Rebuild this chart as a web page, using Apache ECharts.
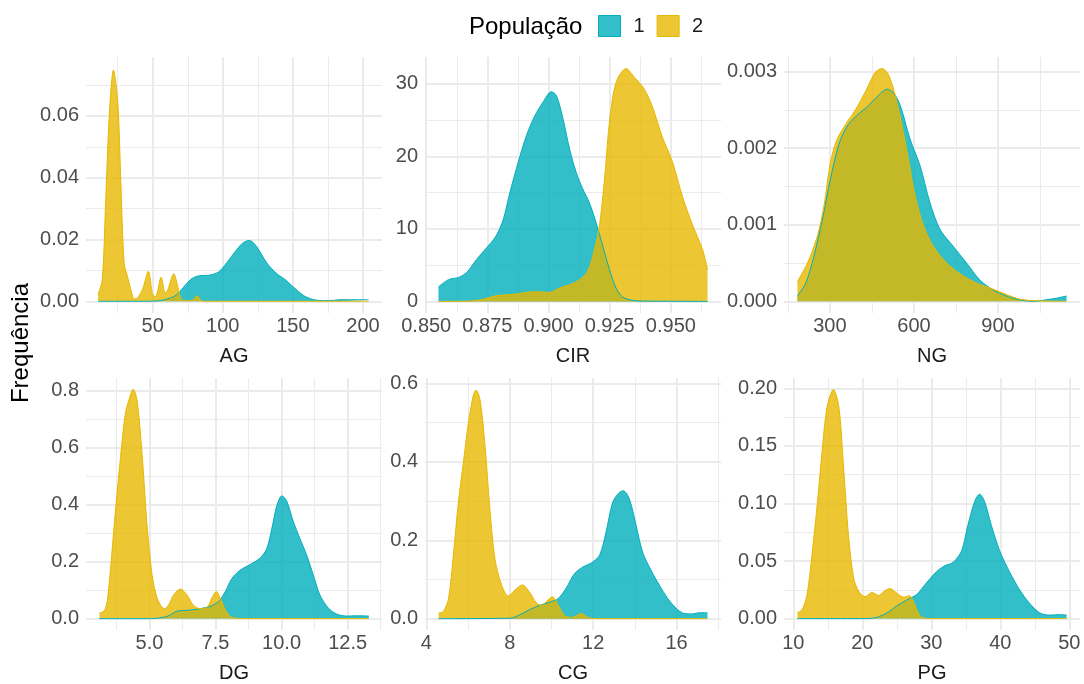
<!DOCTYPE html>
<html>
<head>
<meta charset="utf-8">
<script src="https://cdn.jsdelivr.net/npm/echarts@6/dist/echarts.min.js"></script>
<style>
  html, body { margin: 0; padding: 0; background: #fff; }
  #chart { width: 1084px; height: 684px; }
</style>
</head>
<body>
<div id="chart"></div>
<script>
// AG
const agX1 = [11, 40, 55, 62, 66.8, 71.5, 77.5, 83.5, 89.5, 96.7, 102.7, 109.9, 114.7, 119, 124, 131.4, 138.6, 144.6, 150.6, 157.8, 165, 172, 179, 184, 204];
const agY1 = [0, 0, 0.0002, 0.001, 0.002, 0.0043, 0.0072, 0.0083, 0.0084, 0.0094, 0.0124, 0.0167, 0.019, 0.0197, 0.0178, 0.0124, 0.0089, 0.007, 0.0045, 0.0018, 0.0005, 0.0002, 0.0003, 0.0005, 0.0005];
const agX2 = [11, 14, 16.5, 19, 22, 25, 27.3, 29.6, 32, 34.4, 36.8, 39, 42.8, 46.9, 50, 52, 56, 58.9, 60.8, 65, 68.4, 71, 75, 79, 81.6, 84.7, 90, 120, 160, 204];
const agY2 = [0.0022, 0.007, 0.033, 0.06, 0.0749, 0.065, 0.038, 0.0124, 0.008, 0.0038, 0.0008, 0.001, 0.004, 0.0097, 0.002, 0.0016, 0.0078, 0.0027, 0.0038, 0.0089, 0.0038, 0.0003, 0.0002, 0.0005, 0.0018, 0.0002, 0, 0, 0, 0];
const agXTicks = [50, 100, 150, 200];
const agYTicks = [0, 0.02, 0.04, 0.06];

// CIR
const cirX1 = [0.855, 0.8591, 0.8632, 0.8666, 0.8706, 0.8747, 0.8785, 0.8815, 0.8842, 0.8876, 0.891, 0.8944, 0.8978, 0.9011, 0.9032, 0.9059, 0.9086, 0.9113, 0.914, 0.9167, 0.9195, 0.9222, 0.9249, 0.9276, 0.9303, 0.9344, 0.9398, 0.965];
const cirY1 = [2.0, 3.0, 3.3, 4.0, 5.8, 7.4, 9.0, 11.3, 15.0, 19.2, 22.9, 25.6, 27.5, 28.9, 28.4, 25.2, 21.0, 17.8, 15.5, 13.6, 10.8, 7.6, 4.4, 1.85, 0.6, 0.14, 0.05, 0];
const cirX2 = [0.855, 0.8679, 0.8733, 0.8788, 0.8828, 0.8876, 0.8937, 0.9005, 0.9045, 0.9086, 0.9127, 0.9161, 0.9188, 0.9208, 0.9229, 0.9249, 0.9276, 0.9317, 0.9351, 0.9391, 0.9425, 0.9466, 0.9507, 0.9547, 0.9588, 0.9629, 0.965];
const cirY2 = [0, 0.05, 0.3, 0.8, 0.9, 1.06, 1.34, 1.25, 1.85, 2.3, 3.0, 4.2, 7.2, 10.4, 16.9, 24.7, 30.2, 32.1, 30.9, 29.3, 26.8, 22.6, 19.2, 14.5, 10.6, 7.2, 4.4];
const cirXTicks = [0.85, 0.875, 0.9, 0.925, 0.95];
const cirYTicks = [0, 10, 20, 30];

// NG
const ngX1 = [184, 214, 243, 273, 302, 332, 362, 397, 433, 468, 504, 527, 551, 586, 622, 657, 693, 740, 788, 835, 882, 930, 977, 1024, 1072, 1107, 1145];
const ngY1 = [0.00007, 0.00024, 0.00059, 0.00107, 0.0016, 0.00205, 0.00229, 0.00243, 0.00254, 0.00267, 0.00277, 0.00272, 0.00256, 0.00212, 0.00177, 0.00129, 0.00094, 0.00072, 0.0005, 0.00028, 0.00015, 0.00007, 0.00002, 0, 0.00002, 0.00004, 0.00007];
const ngX2 = [184, 220, 255, 279, 302, 326, 356, 391, 427, 462, 486, 509, 533, 557, 580, 604, 634, 669, 717, 764, 823, 882, 930, 977, 1024, 1145];
const ngY2 = [0.00026, 0.0005, 0.00085, 0.00125, 0.00182, 0.00212, 0.00231, 0.0025, 0.00274, 0.00299, 0.00304, 0.00296, 0.00269, 0.0023, 0.00186, 0.00138, 0.00099, 0.00072, 0.0005, 0.00036, 0.00024, 0.00016, 0.00009, 0.00003, 0.00001, 0];
const ngXTicks = [300, 600, 900];
const ngYTicks = [0, 0.001, 0.002, 0.003];

// DG
const dgX1 = [3.11, 5.04, 5.67, 6.04, 6.55, 6.92, 7.30, 7.62, 7.87, 8.12, 8.43, 8.81, 9.19, 9.44, 9.63, 9.82, 10.01, 10.19, 10.45, 10.70, 10.95, 11.20, 11.45, 11.77, 12.08, 12.46, 12.84, 13.3];
const dgY1 = [0, 0, 0.008, 0.026, 0.03, 0.035, 0.043, 0.06, 0.095, 0.141, 0.17, 0.19, 0.213, 0.246, 0.315, 0.397, 0.431, 0.414, 0.339, 0.28, 0.223, 0.153, 0.083, 0.037, 0.016, 0.009, 0.01, 0.009];
const dgX2 = [3.11, 3.28, 3.40, 3.53, 3.72, 3.91, 4.09, 4.28, 4.38, 4.53, 4.72, 4.91, 5.10, 5.29, 5.48, 5.58, 5.73, 5.92, 6.17, 6.42, 6.67, 6.92, 7.18, 7.36, 7.53, 7.68, 7.87, 8.06, 8.31, 9, 11, 13.3];
const dgY2 = [0.02, 0.026, 0.06, 0.176, 0.385, 0.57, 0.72, 0.785, 0.806, 0.768, 0.58, 0.327, 0.153, 0.072, 0.039, 0.035, 0.049, 0.083, 0.104, 0.083, 0.046, 0.035, 0.039, 0.072, 0.095, 0.072, 0.031, 0.008, 0.001, 0, 0, 0];
const dgXTicks = [5, 7.5, 10, 12.5];
const dgYTicks = [0, 0.2, 0.4, 0.6, 0.8];

// CG
const cgX1 = [4.59, 8.01, 8.49, 8.96, 9.44, 9.92, 10.32, 10.71, 11.11, 11.51, 11.91, 12.31, 12.62, 12.94, 13.26, 13.45, 13.74, 14.06, 14.37, 14.77, 15.17, 15.57, 15.97, 16.36, 16.76, 17.08, 17.48];
const cgY1 = [0, 0.001, 0.01, 0.023, 0.034, 0.042, 0.051, 0.078, 0.115, 0.132, 0.142, 0.162, 0.221, 0.297, 0.322, 0.326, 0.305, 0.238, 0.17, 0.124, 0.086, 0.052, 0.027, 0.013, 0.012, 0.015, 0.015];
const cgX2 = [4.59, 4.83, 5.07, 5.30, 5.54, 5.78, 6.02, 6.26, 6.39, 6.58, 6.82, 7.05, 7.29, 7.61, 7.93, 8.25, 8.61, 8.96, 9.28, 9.52, 9.76, 10.05, 10.32, 10.63, 10.95, 11.19, 11.43, 11.75, 12.15, 17.48];
const cgY2 = [0.014, 0.019, 0.052, 0.162, 0.297, 0.398, 0.499, 0.571, 0.583, 0.558, 0.44, 0.28, 0.153, 0.086, 0.058, 0.073, 0.086, 0.067, 0.04, 0.034, 0.044, 0.056, 0.035, 0.008, 0.003, 0.007, 0.013, 0.003, 0, 0];
const cgXTicks = [4, 8, 12, 16];
const cgYTicks = [0, 0.2, 0.4, 0.6];

// PG
const pgX1 = [10.6, 20.7, 22.1, 23.6, 25.0, 26.4, 27.9, 29.3, 30.8, 32.0, 33.2, 34.4, 35.3, 36.3, 37.0, 37.7, 38.7, 39.9, 41.3, 42.8, 44.2, 45.7, 47.1, 48.6, 49.6];
const pgY1 = [0, 0, 0.001, 0.005, 0.011, 0.016, 0.021, 0.031, 0.041, 0.046, 0.049, 0.059, 0.081, 0.102, 0.108, 0.102, 0.081, 0.059, 0.041, 0.025, 0.0135, 0.005, 0.003, 0.0034, 0.003];
const pgX2 = [10.6, 11.3, 12.0, 12.7, 13.5, 14.2, 14.9, 15.8, 16.6, 17.3, 18.0, 18.75, 19.5, 20.4, 21.4, 22.4, 23.1, 24.0, 25.0, 26.0, 26.8, 27.4, 28.1, 28.8, 30.3, 49.6];
const pgY2 = [0.005, 0.008, 0.021, 0.055, 0.101, 0.147, 0.184, 0.199, 0.184, 0.13, 0.072, 0.035, 0.0235, 0.019, 0.0227, 0.02, 0.0235, 0.026, 0.022, 0.0186, 0.0198, 0.015, 0.005, 0.0006, 0, 0];
const pgXTicks = [10, 20, 30, 40, 50];
const pgYTicks = [0, 0.05, 0.1, 0.15, 0.2];

const FONT = "'Liberation Sans', Arial, sans-serif";
const C1 = '#00AFBB', C2 = '#E7B800';
const GRID_COL = '#EBEBEB';

const panels = [
  {name: 'AG', x1: agX1, y1: agY1, x2: agX2, y2: agY2, xt: agXTicks, yt: agYTicks, xr: [2.4, 213.6], yr: [-0.0038, 0.0791], xd: 0, yd: 2, left: 86, top: 57, h: 256},
  {name: 'CIR', x1: cirX1, y1: cirY1, x2: cirX2, y2: cirY2, xt: cirXTicks, yt: cirYTicks, xr: [0.8495, 0.9705], yr: [-1.6, 33.7], xd: 3, yd: 0, left: 425, top: 57, h: 256},
  {name: 'NG', x1: ngX1, y1: ngY1, x2: ngX2, y2: ngY2, xt: ngXTicks, yt: ngYTicks, xr: [136, 1193], yr: [-0.000152, 0.00319], xd: 0, yd: 3, left: 784, top: 57, h: 256},
  {name: 'DG', x1: dgX1, y1: dgY1, x2: dgX2, y2: dgY2, xt: dgXTicks, yt: dgYTicks, xr: [2.6, 13.8], yr: [-0.04, 0.845], xd: 1, yd: 1, left: 86, top: 378, h: 254},
  {name: 'CG', x1: cgX1, y1: cgY1, x2: cgX2, y2: cgY2, xt: cgXTicks, yt: cgYTicks, xr: [3.94, 18.13], yr: [-0.029, 0.614], xd: 0, yd: 1, left: 425, top: 378, h: 254},
  {name: 'PG', x1: pgX1, y1: pgY1, x2: pgX2, y2: pgY2, xt: pgXTicks, yt: pgYTicks, xr: [8.65, 51.55], yr: [-0.00995, 0.209], xd: 0, yd: 2, left: 784, top: 378, h: 254}
];

// minor breaks halfway between majors, extended to the panel limits
function minors(ticks, lo, hi) {
  const step = ticks[1] - ticks[0];
  const out = [];
  for (let v = ticks[0] - step / 2; v <= hi; v += step) {
    if (v >= lo) out.push(+v.toPrecision(10));
  }
  return out;
}

const zip = (xs, ys) => xs.map((x, i) => [x, ys[i]]);

const grid = [], xAxis = [], yAxis = [], series = [];
const tickText = {color: '#4D4D4D', fontSize: 20, fontFamily: FONT};

panels.forEach((p, i) => {
  grid.push({left: p.left, top: p.top, width: 296, height: p.h});

  xAxis.push({
    type: 'value', gridIndex: i, position: 'bottom', min: p.xr[0], max: p.xr[1],
    name: p.name, nameLocation: 'middle', nameGap: 33,
    nameTextStyle: {color: '#1A1A1A', fontSize: 20, fontFamily: FONT},
    axisLine: {show: false},
    axisTick: {show: false, customValues: p.xt},
    axisLabel: Object.assign({customValues: p.xt, margin: 3, formatter: v => v.toFixed(p.xd)}, tickText),
    splitLine: {show: true, lineStyle: {color: GRID_COL, width: 2}}
  });
  xAxis.push({
    type: 'value', gridIndex: i, position: 'top', min: p.xr[0], max: p.xr[1],
    axisLine: {show: false},
    axisTick: {show: false, customValues: minors(p.xt, p.xr[0], p.xr[1])},
    axisLabel: {show: false},
    splitLine: {show: true, lineStyle: {color: GRID_COL, width: 1}}
  });
  yAxis.push({
    type: 'value', gridIndex: i, position: 'left', min: p.yr[0], max: p.yr[1],
    axisLine: {show: false},
    axisTick: {show: false, customValues: p.yt},
    axisLabel: Object.assign({customValues: p.yt, margin: 7, formatter: v => v.toFixed(p.yd)}, tickText),
    splitLine: {show: true, lineStyle: {color: GRID_COL, width: 2}}
  });
  yAxis.push({
    type: 'value', gridIndex: i, position: 'right', min: p.yr[0], max: p.yr[1],
    axisLine: {show: false},
    axisTick: {show: false, customValues: minors(p.yt, p.yr[0], p.yr[1])},
    axisLabel: {show: false},
    splitLine: {show: true, lineStyle: {color: GRID_COL, width: 1}}
  });

  [[p.x1, p.y1, '1', C1], [p.x2, p.y2, '2', C2]].forEach(([xs, ys, nm, col]) => {
    series.push({
      type: 'line', name: nm, xAxisIndex: 2 * i, yAxisIndex: 2 * i,
      data: zip(xs, ys), smooth: 0.3, symbol: 'none',
      lineStyle: {color: col, width: 1},
      itemStyle: {color: col},
      areaStyle: {color: col, opacity: 0.8}
    });
  });
});

const chart = echarts.init(document.getElementById('chart'), null, {renderer: 'canvas'});
chart.setOption({
  animation: false,
  backgroundColor: '#fff',
  grid, xAxis, yAxis, series,
  legend: {
    left: 598, top: 15, padding: 0, itemWidth: 22, itemHeight: 21, itemGap: 12, icon: 'rect',
    data: [
      {name: '1', itemStyle: {color: 'rgba(0,175,187,0.8)', borderColor: C1, borderWidth: 1}},
      {name: '2', itemStyle: {color: 'rgba(231,184,0,0.8)', borderColor: C2, borderWidth: 1}}
    ],
    textStyle: {color: '#1A1A1A', fontSize: 20, fontFamily: FONT, padding: [0, 0, 0, 8]}
  },
  graphic: [
    {type: 'text', left: 469, top: 15, style: {text: 'População', font: '24px ' + FONT, fill: '#000'}},
    {type: 'text', x: 21, y: 343, rotation: Math.PI / 2,
     style: {text: 'Frequência', font: '24px ' + FONT, fill: '#000', align: 'center', verticalAlign: 'middle'}}
  ]
});
</script>
</body>
</html>
